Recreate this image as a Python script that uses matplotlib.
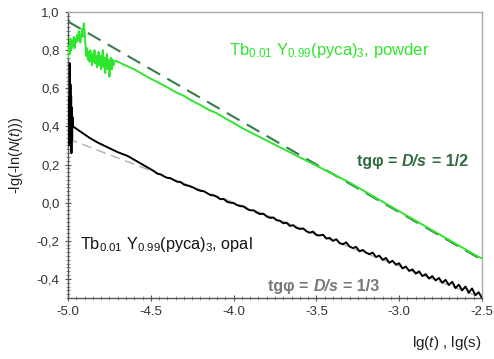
import matplotlib
matplotlib.use("Agg")
import matplotlib.pyplot as plt
from matplotlib.ticker import MultipleLocator, FuncFormatter
from matplotlib.offsetbox import TextArea, HPacker, AnnotationBbox

plt.rcParams['font.family'] = ['Liberation Sans', 'DejaVu Sans']
plt.rcParams['mathtext.fontset'] = 'custom'
plt.rcParams['mathtext.rm'] = 'Liberation Sans'
plt.rcParams['mathtext.it'] = 'Liberation Sans:italic'
plt.rcParams['mathtext.bf'] = 'Liberation Sans:bold'

# ---------------- data ----------------
# powder (green), noisy start
powder_noisy_x = [-5.0, -4.995, -4.99, -4.985, -4.98, -4.975, -4.97, -4.965, -4.96, -4.955,
                  -4.95, -4.945, -4.94, -4.935, -4.93, -4.925, -4.92, -4.915, -4.91, -4.905,
                  -4.90, -4.895, -4.89, -4.885, -4.88, -4.875, -4.87, -4.865, -4.86, -4.855,
                  -4.85, -4.845, -4.84, -4.835, -4.83, -4.825, -4.82, -4.815, -4.81, -4.805,
                  -4.80, -4.795, -4.79, -4.785, -4.78, -4.775, -4.77, -4.765, -4.76, -4.755,
                  -4.75, -4.745, -4.74, -4.735, -4.73, -4.725, -4.72, -4.71]
powder_noisy_y = [0.76, 0.82, 0.78, 0.86, 0.80, 0.85, 0.82, 0.87, 0.81, 0.86,
                  0.84, 0.88, 0.85, 0.90, 0.86, 0.84, 0.88, 0.91, 0.87, 0.94,
                  0.90, 0.83, 0.77, 0.81, 0.75, 0.79, 0.74, 0.80, 0.76, 0.72,
                  0.78, 0.74, 0.80, 0.73, 0.77, 0.71, 0.76, 0.79, 0.72, 0.77,
                  0.70, 0.75, 0.80, 0.71, 0.76, 0.68, 0.74, 0.78, 0.70, 0.75,
                  0.66, 0.72, 0.76, 0.70, 0.75, 0.72, 0.74, 0.745]
powder_x = [-4.70, -4.65, -4.60, -4.55, -4.50, -4.45, -4.40, -4.35, -4.30, -4.25,
            -4.20, -4.15, -4.10, -4.05, -4.00, -3.95, -3.90, -3.85, -3.80, -3.75,
            -3.70, -3.65, -3.60, -3.55, -3.50, -3.45, -3.40, -3.35, -3.30, -3.25,
            -3.20, -3.15, -3.10, -3.05, -3.00, -2.95, -2.90, -2.85, -2.80, -2.75,
            -2.70, -2.65, -2.60, -2.55, -2.50]
powder_y = [0.740, 0.718, 0.700, 0.674, 0.650, 0.628, 0.605, 0.580, 0.560, 0.534,
            0.512, 0.487, 0.468, 0.442, 0.418, 0.392, 0.370, 0.348, 0.326, 0.304,
            0.282, 0.260, 0.238, 0.216, 0.194, 0.172, 0.150, 0.128, 0.106, 0.080,
            0.055, 0.030, 0.005, -0.020, -0.045, -0.070, -0.095, -0.120, -0.145, -0.170,
            -0.195, -0.220, -0.245, -0.270, -0.293]

# opal (black), noisy start
opal_noisy_x = [-4.997, -4.995, -4.993, -4.991, -4.989, -4.987, -4.985, -4.983, -4.981,
                -4.979, -4.977, -4.975, -4.973, -4.971]
opal_noisy_y = [0.34, 0.30, 0.55, 0.35, 0.73, 0.40, 0.62, 0.30, 0.56, 0.26, 0.50, 0.33, 0.45, 0.40]
opal_x = [-4.97, -4.92, -4.87, -4.82, -4.76, -4.70, -4.64, -4.58, -4.53,
          -4.48, -4.46, -4.44, -4.42, -4.40, -4.38, -4.36, -4.34, -4.32, -4.30,
          -4.28, -4.26, -4.24, -4.22, -4.20, -4.18, -4.16, -4.14, -4.12, -4.10,
          -4.08, -4.06, -4.04, -4.02, -4.00, -3.98, -3.96, -3.94, -3.92, -3.90,
          -3.88, -3.86, -3.84, -3.82, -3.80, -3.78, -3.76, -3.74, -3.72, -3.70,
          -3.68, -3.66, -3.64, -3.62, -3.60, -3.58, -3.56, -3.54, -3.52, -3.50,
          -3.48, -3.46, -3.44, -3.42, -3.40, -3.38, -3.36, -3.34, -3.32, -3.30,
          -3.28, -3.26, -3.24, -3.22, -3.20, -3.18, -3.16, -3.14, -3.12, -3.10,
          -3.08, -3.06, -3.04, -3.02, -3.00, -2.98, -2.96, -2.94, -2.92, -2.90,
          -2.88, -2.86, -2.84, -2.82, -2.80, -2.78, -2.76, -2.74, -2.72, -2.70,
          -2.68, -2.66, -2.64, -2.62, -2.60, -2.58, -2.56, -2.54, -2.52, -2.50]
opal_y = [0.400, 0.370, 0.340, 0.315, 0.290, 0.265, 0.245, 0.215, 0.190,
          0.165, 0.152, 0.148, 0.138, 0.130, 0.128, 0.118, 0.110, 0.108, 0.095,
          0.090, 0.085, 0.078, 0.068, 0.062, 0.060, 0.050, 0.040, 0.038, 0.030,
          0.018, 0.020, 0.005, 0.000, -0.002, -0.012, -0.018, -0.020, -0.032, -0.040,
          -0.040, -0.052, -0.060, -0.058, -0.072, -0.080, -0.078, -0.092, -0.095, -0.108,
          -0.105, -0.122, -0.118, -0.132, -0.138, -0.135, -0.150, -0.158, -0.152, -0.170,
          -0.172, -0.168, -0.188, -0.185, -0.200, -0.192, -0.212, -0.218, -0.208, -0.230,
          -0.238, -0.232, -0.255, -0.248, -0.262, -0.270, -0.262, -0.285, -0.278, -0.300,
          -0.290, -0.315, -0.305, -0.325, -0.318, -0.345, -0.335, -0.358, -0.350, -0.372,
          -0.360, -0.385, -0.375, -0.398, -0.385, -0.408, -0.395, -0.420, -0.405, -0.432,
          -0.415, -0.448, -0.430, -0.460, -0.440, -0.472, -0.450, -0.485, -0.470, -0.500]

# fit lines (slope 1/2 and 1/3)
fit_half_x = [-5.0, -2.5]
fit_half_y = [0.95, -0.30]
fit_third_x = [-5.0, -2.5]
fit_third_y = [0.335, -0.50]

# ---------------- plot ----------------
fig = plt.figure(figsize=(4.94, 3.59), dpi=100)
ax = fig.add_axes([68/494, 1-298/359, (482-68)/494, (298-12)/359])

green = '#2ee62e'
ax.plot(fit_third_x, fit_third_y, color='#b0b0b0', lw=1.0, dashes=(7, 4), zorder=2)
ax.plot(fit_half_x, fit_half_y, color='#3c7a4c', lw=1.5, dashes=(7, 4), zorder=2)
ax.plot(powder_noisy_x + powder_x, powder_noisy_y + powder_y, color=green, lw=1.4, zorder=3)
ax.plot(opal_noisy_x + opal_x, opal_noisy_y + opal_y, color='black', lw=1.4, zorder=3)

ax.set_xlim(-5.0, -2.5)
ax.set_ylim(-0.5, 1.0)
ax.xaxis.set_major_locator(MultipleLocator(0.5))
ax.xaxis.set_minor_locator(MultipleLocator(0.05))
ax.yaxis.set_major_locator(MultipleLocator(0.2))
ax.yaxis.set_minor_locator(MultipleLocator(0.02))
ax.xaxis.set_major_formatter(FuncFormatter(lambda v, p: f'{v:.1f}'))
ax.yaxis.set_major_formatter(FuncFormatter(lambda v, p: f'{v:.1f}'.replace('.', ',').replace('-0,0', '0,0')))
ax.tick_params(axis='both', which='major', direction='inout', length=4, width=0.8,
               labelsize=9.5, labelcolor='#333333', color='#555555', pad=4)
ax.tick_params(axis='both', which='minor', direction='inout', length=2.5, width=0.6, color='#777777')

for s in ['left', 'bottom']:
    ax.spines[s].set_color('#555555')
    ax.spines[s].set_linewidth(1.0)
for s in ['top', 'right']:
    ax.spines[s].set_color('#aaaaaa')
    ax.spines[s].set_linewidth(1.0)

ax.text(-4.03, 0.80, r'Tb$_{0.01}$ Y$_{0.99}$(pyca)$_3$, powder', color=green, fontsize=12,
        va='center', ha='left')
ax.text(-4.93, -0.22, r'Tb$_{0.01}$ Y$_{0.99}$(pyca)$_3$, opal', color='#111111', fontsize=11.7,
        va='center', ha='left')


def tg_label(x, y, frac, color, ha_box):
    fs = 11.5
    parts = [TextArea('tgφ =', textprops=dict(color=color, fontsize=fs, fontweight='bold')),
             TextArea('D/s', textprops=dict(color=color, fontsize=fs, fontweight='bold', fontstyle='italic')),
             TextArea('= ' + frac, textprops=dict(color=color, fontsize=fs, fontweight='bold'))]
    box = HPacker(children=parts, align='baseline', pad=0, sep=3.5)
    ab = AnnotationBbox(box, (x, y), xycoords='data', frameon=False, box_alignment=ha_box, pad=0)
    ax.add_artist(ab)


tg_label(-2.585, 0.215, '1/2', '#2f6b3f', (1.0, 0.5))
tg_label(-3.79, -0.44, '1/3', '#777777', (0.0, 0.5))

fig.text(16/494, 1-155/359, r'-lg(-ln($N$($t$)))', rotation=90, fontsize=10.5, color='#222222',
         ha='center', va='center')
fig.text(482/494, 1-343/359, r'lg($t$) , lg(s)', fontsize=11, color='#222222',
         ha='right', va='center')

fig.savefig('out.png', dpi=100)
